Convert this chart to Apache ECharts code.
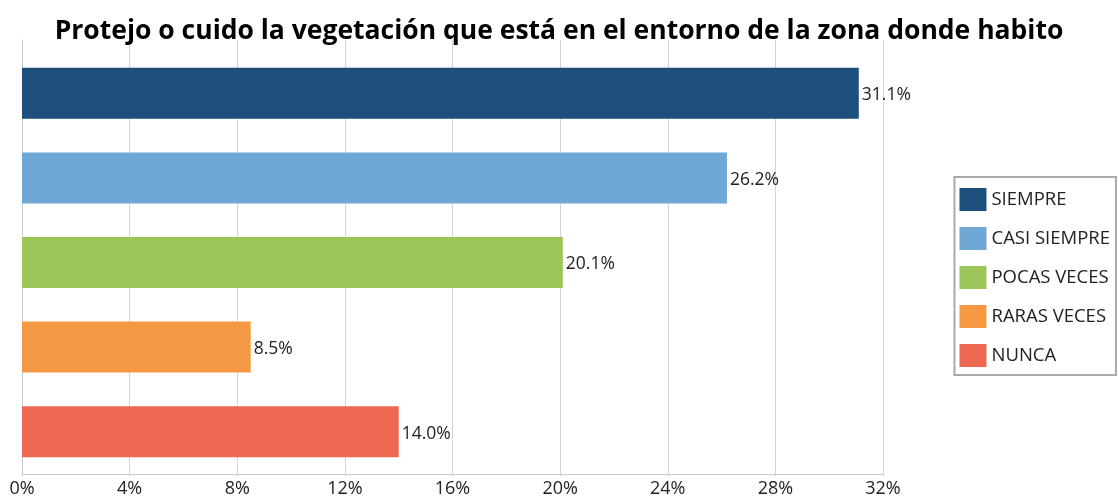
<!DOCTYPE html>
<html><head><meta charset="utf-8">
<script src="https://cdn.jsdelivr.net/npm/echarts@6/dist/echarts.min.js"></script>
<style>html,body{margin:0;padding:0;background:#fff}#c{width:1118px;height:499px}</style>
</head><body><div id="c"></div>
<script>
const title = 'Protejo o cuido la vegetación que está en el entorno de la zona donde habito';
const categories = ['SIEMPRE', 'CASI SIEMPRE', 'POCAS VECES', 'RARAS VECES', 'NUNCA'];
const values = [31.1, 26.2, 20.1, 8.5, 14.0];
const colors = ['#1d4f7d', '#6fa7d5', '#9cc65a', '#f49843', '#ed6751'];
const xMin = 0, xMax = 32, xStep = 4;

const font = '"Open Sans", "Noto Sans", sans-serif';
const chart = echarts.init(document.getElementById('c'), null, {renderer: 'canvas'});
const series = categories.map((name, i) => ({
  name, type: 'bar', stack: 'all', barWidth: 51,
  itemStyle: {color: colors[i]},
  label: {show: true, position: 'right', distance: 3, offset: [0, 2], color: '#222', fontSize: 17.5, fontFamily: font,
    formatter: p => p.value == null ? '' : p.value.toFixed(1) + '%'},
  data: categories.map((c, j) => j === i ? values[i] : null)
}));
chart.setOption({
  animation: false,
  title: {text: title, left: 'center', top: 13, textStyle: {fontFamily: font, fontWeight: 'bold', fontSize: 26.5, color: '#000'}},
  legend: {orient: 'vertical', right: 2, top: 177, padding: [11, 6, 8, 5], itemWidth: 27, itemHeight: 23, itemGap: 16,
    borderColor: '#aaa', borderWidth: 2, icon: 'rect',
    textStyle: {fontFamily: font, fontSize: 18.5, color: '#222'}, data: categories},
  grid: [{left: 22, right: 235, top: 51, bottom: 25, containLabel: false},
         {left: 22, right: 235, top: 40, height: 11}],
  xAxis: [{type: 'value', min: xMin, max: xMax, interval: xStep, gridIndex: 0,
    axisLine: {show: true, lineStyle: {color: '#ccc'}},
    axisTick: {show: true, length: 2, lineStyle: {color: '#ccc'}},
    splitLine: {lineStyle: {color: '#d4d4d4'}},
    axisLabel: {formatter: v => v + '%', fontFamily: font, fontSize: 18, color: '#222', margin: 6}},
    {type: 'value', min: xMin, max: xMax, interval: xStep, gridIndex: 1, show: true,
    axisLine: {show: false}, axisTick: {show: false}, axisLabel: {show: false},
    splitLine: {lineStyle: {color: '#d4d4d4'}}}],
  yAxis: [{type: 'category', data: categories, inverse: true, gridIndex: 0,
    axisLine: {show: true, lineStyle: {color: '#ccc'}}, axisTick: {show: false}, axisLabel: {show: false}},
    {type: 'category', data: [''], gridIndex: 1,
    axisLine: {show: true, lineStyle: {color: '#ccc'}}, axisTick: {show: false}, axisLabel: {show: false}}],
  series
});
</script></body></html>
